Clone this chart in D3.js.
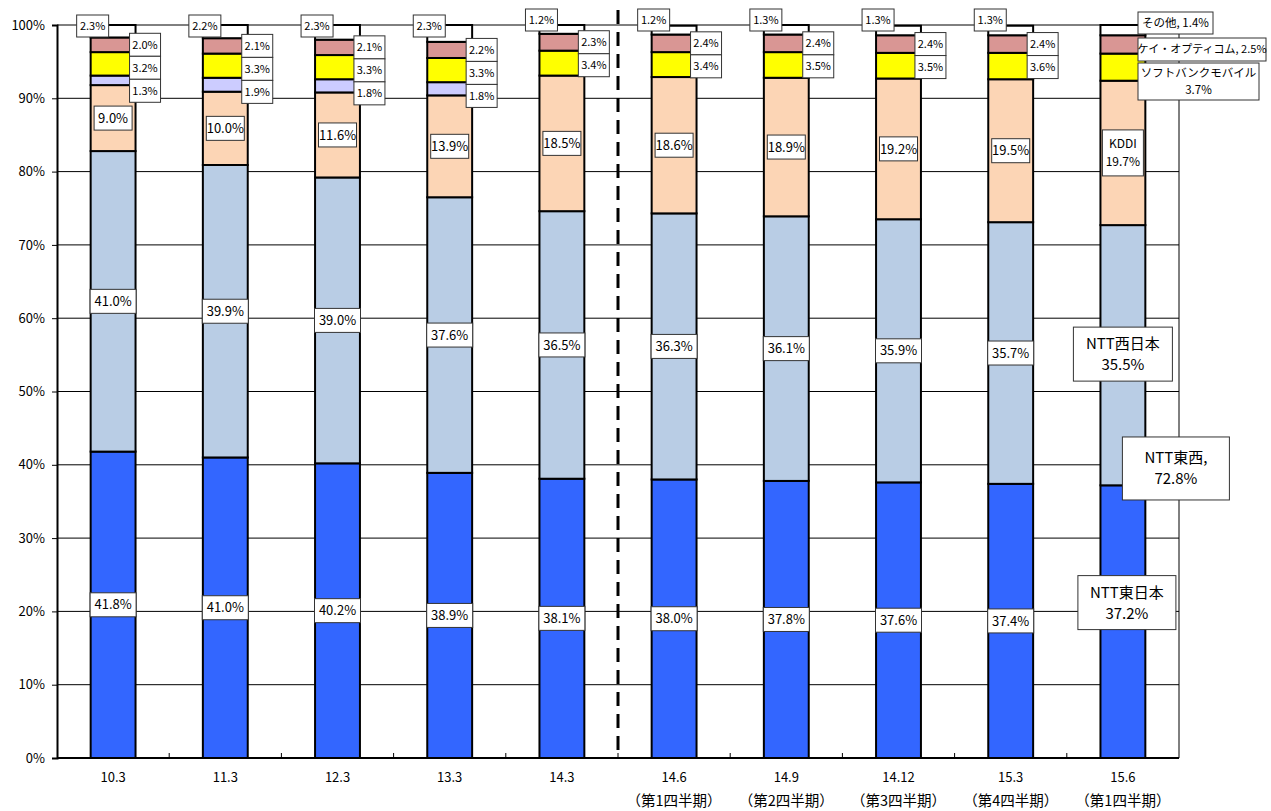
<!DOCTYPE html>
<html><head><meta charset="utf-8">
<script src="https://cdn.jsdelivr.net/npm/d3@7"></script>
<style>body{margin:0;background:#fff}text{font-family:"Noto Sans CJK JP","Noto Sans",sans-serif}</style>
</head><body>
<svg id="c" width="1271" height="811"></svg>
<script>
var categories = ["10.3","11.3","12.3","13.3","14.3","14.6","14.9","14.12","15.3","15.6"];
var subLabels = ["","","","","","（第1四半期）","（第2四半期）","（第3四半期）","（第4四半期）","（第1四半期）"];
var seriesNames = ["NTT東日本","NTT西日本","KDDI","その他事業者","ソフトバンクモバイル","ケイ・オプティコム","その他"];
var nttEast  = [41.8,41.0,40.2,38.9,38.1,38.0,37.8,37.6,37.4,37.2];
var nttWest  = [41.0,39.9,39.0,37.6,36.5,36.3,36.1,35.9,35.7,35.5];
var kddi     = [9.0,10.0,11.6,13.9,18.5,18.6,18.9,19.2,19.5,19.7];
var lavender = [1.3,1.9,1.8,1.8,0,0,0,0,0,0];
var softbank = [3.2,3.3,3.3,3.3,3.4,3.4,3.5,3.5,3.6,3.7];
var kopti    = [2.0,2.1,2.1,2.2,2.3,2.4,2.4,2.4,2.4,2.5];
var others   = [2.3,2.2,2.3,2.3,1.2,1.2,1.3,1.3,1.3,1.4];
var nttTotal = 72.8;
var yTicks = [0,10,20,30,40,50,60,70,80,90,100];
var colors = ["#3366FF","#B9CDE5","#FCD5B5","#CCCCFF","#FFFF00","#D99694","#FFFFFF"];

var series = [nttEast,nttWest,kddi,lavender,softbank,kopti,others];
var svg = d3.select("#c");
var L = 57, R = 1179, T = 25, B = 758;
var x = d3.scaleBand().domain(categories).range([L,R]).paddingInner(0.6).paddingOuter(0.3);
var xb = d3.scaleBand().domain(categories).range([L,R]);
var y = d3.scaleLinear().domain([0,100]).range([B,T]).clamp(true);

// grid
svg.append("g").selectAll("line").data(yTicks.slice(1)).join("line")
  .attr("x1",L).attr("x2",R).attr("y1",d=>y(d)).attr("y2",d=>y(d))
  .attr("stroke","#000").attr("stroke-width",1);
svg.append("line").attr("x1",R).attr("x2",R).attr("y1",T).attr("y2",B).attr("stroke","#000");

// stacks
var rows = categories.map(function(c,i){var o={cat:c};series.forEach(function(s,k){o["s"+k]=s[i];});return o;});
var stack = d3.stack().keys(series.map((s,k)=>"s"+k))(rows);
stack.forEach(function(layer,k){
  svg.append("g").selectAll("rect").data(layer).join("rect")
    .attr("x",d=>x(d.data.cat)).attr("width",x.bandwidth())
    .attr("y",d=>y(d[1])).attr("height",d=>Math.max(0,y(d[0])-y(d[1])))
    .attr("fill",colors[k]).attr("stroke","#000").attr("stroke-width",d=>d[1]-d[0]>0?2:0);
});

// axes
var yAx = svg.append("g").attr("transform","translate("+L+",0)")
  .call(d3.axisLeft(y).tickValues(yTicks).tickFormat(d=>d+"%").tickSize(5));
yAx.select(".domain").attr("stroke-width",2);
yAx.selectAll("text").attr("font-size",13).attr("fill","#000").attr("x",-12);
svg.append("line").attr("x1",L).attr("x2",R).attr("y1",B).attr("y2",B).attr("stroke","#000").attr("stroke-width",2);
svg.append("g").selectAll("line").data(categories.slice(1)).join("line")
  .attr("x1",d=>xb(d)).attr("x2",d=>xb(d)).attr("y1",B).attr("y2",B-5).attr("stroke","#000");
var xl = svg.append("g").selectAll("g").data(categories).join("g")
  .attr("transform",d=>"translate("+(xb(d)+xb.bandwidth()/2)+",0)");
xl.append("text").attr("y",782).attr("text-anchor","middle").attr("font-size",13).text(d=>d);
xl.append("text").attr("y",806).attr("text-anchor","middle").attr("font-size",14.5).text((d,i)=>subLabels[i]);

// dashed divider
var dx = xb(categories[5]);
svg.append("line").attr("x1",dx).attr("x2",dx).attr("y1",10).attr("y2",B)
  .attr("stroke","#000").attr("stroke-width",3).attr("stroke-dasharray","14,8");

function box(cx,cy,lines,fs,w,h){
  var g = svg.append("g");
  g.append("rect").attr("x",cx-w/2).attr("y",cy-h/2).attr("width",w).attr("height",h)
    .attr("fill","#fff").attr("stroke","#333").attr("stroke-width",1);
  lines.forEach(function(t,j){
    g.append("text").attr("x",cx).attr("y",cy+(j-(lines.length-1)/2)*(fs+6)+fs*0.36)
      .attr("text-anchor","middle").attr("font-size",fs).text(t);
  });
}
function pct(v){return v.toFixed(1)+"%";}
var last = categories.length-1;

categories.forEach(function(c,i){
  var bx = x(c), bw = x.bandwidth(), cx = bx+bw/2;
  var mid = k => y(stack[k][i][0]+(stack[k][i][1]-stack[k][i][0])/2);
  if(i<last){
    [0,1,2].forEach(k=>box(cx,mid(k),[pct(series[k][i])],13,k==2?38:46,24));
    // small labels on right, packed top-down
    var prev = -1e9;
    [5,4,3].forEach(function(k){
      if(series[k][i]<=0) return;
      var cy = Math.max(mid(k), prev+23); prev = cy;
      box(bx+bw-6+15.5,cy,[pct(series[k][i])],11,31,23);
    });
    box(bx+2,y(100)+(i<4?1:-5),[pct(others[i])],11,32,22);
  } else {
    box(cx,mid(2),["KDDI",pct(kddi[i])],12,41,46);
    box(cx,y(55.1),["NTT西日本",pct(nttWest[i])],15,99,54);
    box(cx+53,y(39.5),["NTT東西,",pct(nttTotal)],15,107,63);
    box(cx+4,y(21.2),["NTT東日本",pct(nttEast[i])],15,98,54);
    box(1175.5,23,["その他, "+pct(others[i])],11.5,75,22);
    box(1202,49.5,["ケイ・オプティコム, "+pct(kopti[i])],11,128,23);
    box(1198.5,81.5,["ソフトバンクモバイル",pct(softbank[i])],11.5,121,37);
  }
});
</script>
</body></html>
